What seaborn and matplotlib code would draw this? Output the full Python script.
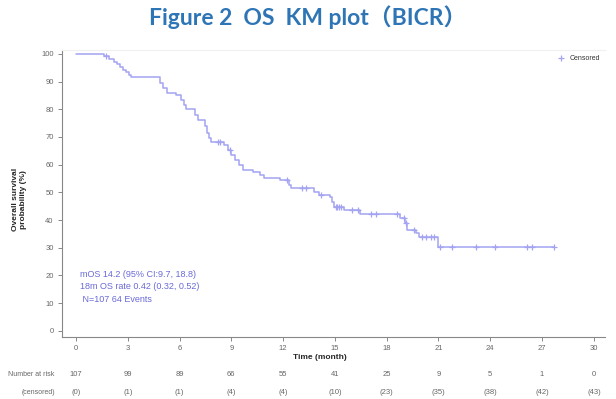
import numpy as np
import pandas as pd
import matplotlib
matplotlib.use("Agg")
import matplotlib.pyplot as plt
import seaborn as sns

# KM steps: time (month), survival (%)
step_time = [0, 1.6, 1.9, 2.2, 2.4, 2.55, 2.7, 2.9, 3.05, 3.2,
             4.85, 5.05, 5.3, 5.8, 6.1, 6.25, 6.35, 6.9, 7.05, 7.45,
             7.6, 7.7, 7.85, 8.6, 8.8, 9.0, 9.2, 9.45, 9.65, 10.25,
             10.65, 10.9, 11.8, 12.35, 12.45, 13.8, 14.1, 14.7, 14.85, 14.95,
             15.55, 16.45, 18.75, 19.05, 19.15, 19.7, 19.85, 21.0, 27.7]
step_surv = [100, 99.1, 98.1, 97.2, 96.2, 95.3, 94.3, 93.4, 92.5, 91.5,
             89.6, 87.7, 86.0, 85.0, 83.5, 81.5, 80.0, 78.0, 76.0, 74.0,
             71.5, 69.5, 68.1, 67.1, 65.3, 63.5, 61.7, 59.9, 58.1, 57.3,
             56.4, 55.3, 54.4, 52.5, 51.5, 50.3, 49.2, 48.3, 46.5, 44.9,
             43.5, 42.2, 40.8, 38.9, 36.5, 35.3, 34.0, 30.4, 30.4]

cens_time = [1.75, 8.2, 8.35, 8.9, 12.25, 13.1, 13.3, 14.2, 15.05, 15.15,
             15.25, 15.35, 16.0, 16.35, 17.1, 17.4, 18.6, 19.0, 19.1, 19.6,
             20.05, 20.3, 20.55, 20.75, 21.1, 21.8, 23.2, 24.3, 26.15, 26.4, 27.7]
cens_surv = [99.1, 68.1, 68.1, 65.3, 54.4, 51.5, 51.5, 49.2, 44.9, 44.9,
             44.9, 44.9, 43.5, 43.5, 42.2, 42.2, 42.2, 40.8, 38.9, 36.5,
             34.0, 34.0, 34.0, 34.0, 30.4, 30.4, 30.4, 30.4, 30.4, 30.4, 30.4]

risk_times = [0, 3, 6, 9, 12, 15, 18, 21, 24, 27, 30]
at_risk = [107, 99, 89, 66, 55, 41, 25, 9, 5, 1, 0]
censored = [0, 1, 1, 4, 4, 10, 23, 35, 38, 42, 43]

y_ticks = [0, 10, 20, 30, 40, 50, 60, 70, 80, 90, 100]

stats_lines = ["mOS 14.2 (95% CI:9.7, 18.8)",
               "18m OS rate 0.42 (0.32, 0.52)",
               " N=107 64 Events"]

line_col = "#a3a3f2"
text_col = "#6a6ad8"
grey = "#666666"

sns.set_style("white")
plt.rcParams["font.family"] = ["Liberation Sans", "DejaVu Sans"]

fig = plt.figure(figsize=(6.16, 3.99), dpi=100)
ax = fig.add_axes([0.1006, 0.1554, 0.8814, 0.7193])

km = pd.DataFrame({"time": step_time, "surv": step_surv})
sns.lineplot(data=km, x="time", y="surv", drawstyle="steps-post",
             estimator=None, sort=False, color=line_col, linewidth=1.1, ax=ax)
cens = pd.DataFrame({"time": cens_time, "surv": cens_surv})
sns.scatterplot(data=cens, x="time", y="surv", marker="+", s=22,
                color=line_col, linewidth=0.9, ax=ax, label="Censored", zorder=3)

ax.set_xlim(-0.81, 30.64)
ax.set_ylim(-2.2, 101.4)
ax.set_xticks(risk_times)
ax.set_yticks(y_ticks)
ax.tick_params(axis="both", labelsize=5.5, labelcolor=grey, color="#888888",
               direction="out", length=3, width=0.7, pad=3, bottom=True, left=True)
for side in ["left", "bottom"]:
    ax.spines[side].set_color("#888888")
    ax.spines[side].set_linewidth(0.8)
ax.spines["top"].set_color("#f0f0f0")
ax.spines["right"].set_visible(False)

ax.set_xlabel("")
ax.set_ylabel("")
fig.text(0.52, 0.105, "Time (month)", fontsize=6, fontweight="bold", ha="center", va="center")
fig.text(0.032, 0.50, "Overall survival\nprobability (%)", fontsize=6, fontweight="bold",
         rotation=90, ha="center", va="center", linespacing=1.1)

leg = ax.legend(loc="upper right", frameon=False, fontsize=5, handletextpad=0.2,
                borderaxespad=0.3, markerscale=0.9)
for t in leg.get_texts():
    t.set_color("#333333")

for i, line in enumerate(stats_lines):
    ax.text(0.25, 20.5 - i * 4.5, line, fontsize=6.5, color=text_col, va="center")

# risk table
y_risk = 1 - 374 / 399
y_cens = 1 - 392 / 399
fig.text(8 / 616, y_risk, "Number at risk", fontsize=5, color=grey, va="center")
fig.text(22 / 616, y_cens, "(censored)", fontsize=5, color=grey, va="center")
for t, n, c in zip(risk_times, at_risk, censored):
    xf = ax.transData.transform((t, 0))[0]
    xf = fig.transFigure.inverted().transform((xf, 0))[0]
    fig.text(xf, y_risk, str(n), fontsize=5.5, color=grey, ha="center", va="center")
    fig.text(xf, y_cens, "(%d)" % c, fontsize=5.5, color=grey, ha="center", va="center")

fig.text(0.5, 0.957, "Figure 2  OS  KM plot（BICR）", fontsize=16.5, fontweight="bold",
         color="#2e75b6", ha="center", va="center", family=["Lato", "Noto Sans CJK SC"])

fig.savefig("out.png", dpi=100, facecolor="white")
